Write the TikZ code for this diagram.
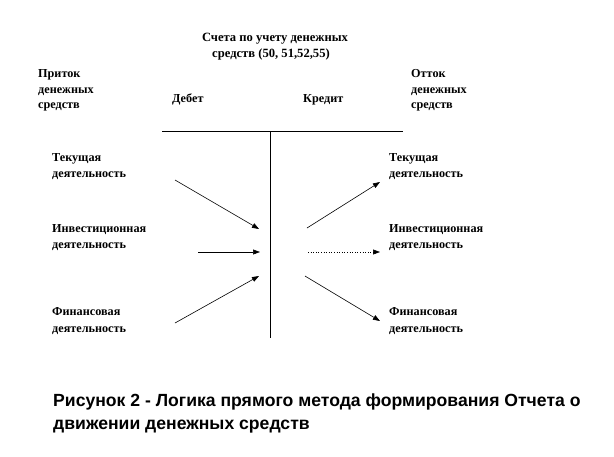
\documentclass[tikz,border=0pt]{standalone}
\usepackage{fontspec}
\setmainfont{Liberation Serif}
\newfontfamily\capfont{Liberation Sans}
\usetikzlibrary{arrows.meta}
\begin{document}
\begin{tikzpicture}[x=1pt,y=-1pt,
  lbl/.style={anchor=base west,inner sep=0pt,font=\fontsize{12.2}{12}\selectfont\bfseries},
  ttl/.style={anchor=base,inner sep=0pt,font=\fontsize{12.6}{12}\selectfont\bfseries},
  captxt/.style={anchor=base west,inner sep=0pt,font=\fontsize{17.6}{18}\selectfont\capfont\bfseries},
  arr/.style={-{Triangle[length=7pt,width=5pt]},line width=0.6pt},
  tline/.style={line width=0.8pt}]
\useasboundingbox (0,0) rectangle (614,456);
% title
\node[ttl] (t1) at (275,41) {Счета по учету денежных};
\node[ttl] (t2) at (271,57) {средств (50, 51,52,55)};
% inflow / outflow
\node[lbl] (p1) at (38,77) {Приток};
\node[lbl] (p2) at (38,93) {денежных};
\node[lbl] (p3) at (38,108) {средств};
\node[lbl] (o1) at (411,77) {Отток};
\node[lbl] (o2) at (411,93) {денежных};
\node[lbl] (o3) at (411,108) {средств};
\node[lbl] (deb) at (172,102) {Дебет};
\node[lbl] (kred) at (303,102) {Кредит};
% T account
\coordinate (hl) at (162,131);
\coordinate (hr) at (403,131);
\coordinate (vt) at (270,131);
\coordinate (vb) at (270,338);
\draw[tline] (hl) -- (hr);
\draw[tline] (vt) -- (vb);
% left labels
\node[lbl] (l1a) at (52,161) {Текущая};
\node[lbl] (l1b) at (52,177) {деятельность};
\node[lbl] (l2a) at (52,232) {Инвестиционная};
\node[lbl] (l2b) at (52,248) {деятельность};
\node[lbl] (l3a) at (52,315) {Финансовая};
\node[lbl] (l3b) at (52,332) {деятельность};
% right labels
\node[lbl] (r1a) at (389,161) {Текущая};
\node[lbl] (r1b) at (389,177) {деятельность};
\node[lbl] (r2a) at (389,232) {Инвестиционная};
\node[lbl] (r2b) at (389,248) {деятельность};
\node[lbl] (r3a) at (389,315) {Финансовая};
\node[lbl] (r3b) at (389,332) {деятельность};
% arrow endpoints
\coordinate (a1s) at (175,180); \coordinate (a1e) at (259,229);
\coordinate (a2s) at (198,252); \coordinate (a2e) at (260,252);
\coordinate (a3s) at (175,323); \coordinate (a3e) at (259,276);
\coordinate (b1s) at (307,228); \coordinate (b1e) at (380,182);
\coordinate (b2s) at (308,252); \coordinate (b2e) at (380,252);
\coordinate (b3s) at (305,276); \coordinate (b3e) at (380,321);
\draw[arr] (a1s) -- (a1e);
\draw[arr] (a2s) -- (a2e);
\draw[arr] (a3s) -- (a3e);
\draw[arr] (b1s) -- (b1e);
\draw[arr,dotted] (b2s) -- (b2e);
\draw[arr] (b3s) -- (b3e);
% caption
\node[captxt] (c1) at (53,406) {Рисунок 2 - Логика прямого метода формирования Отчета о};
\node[captxt] (c2) at (53,429) {движении денежных средств};
\end{tikzpicture}
\end{document}
